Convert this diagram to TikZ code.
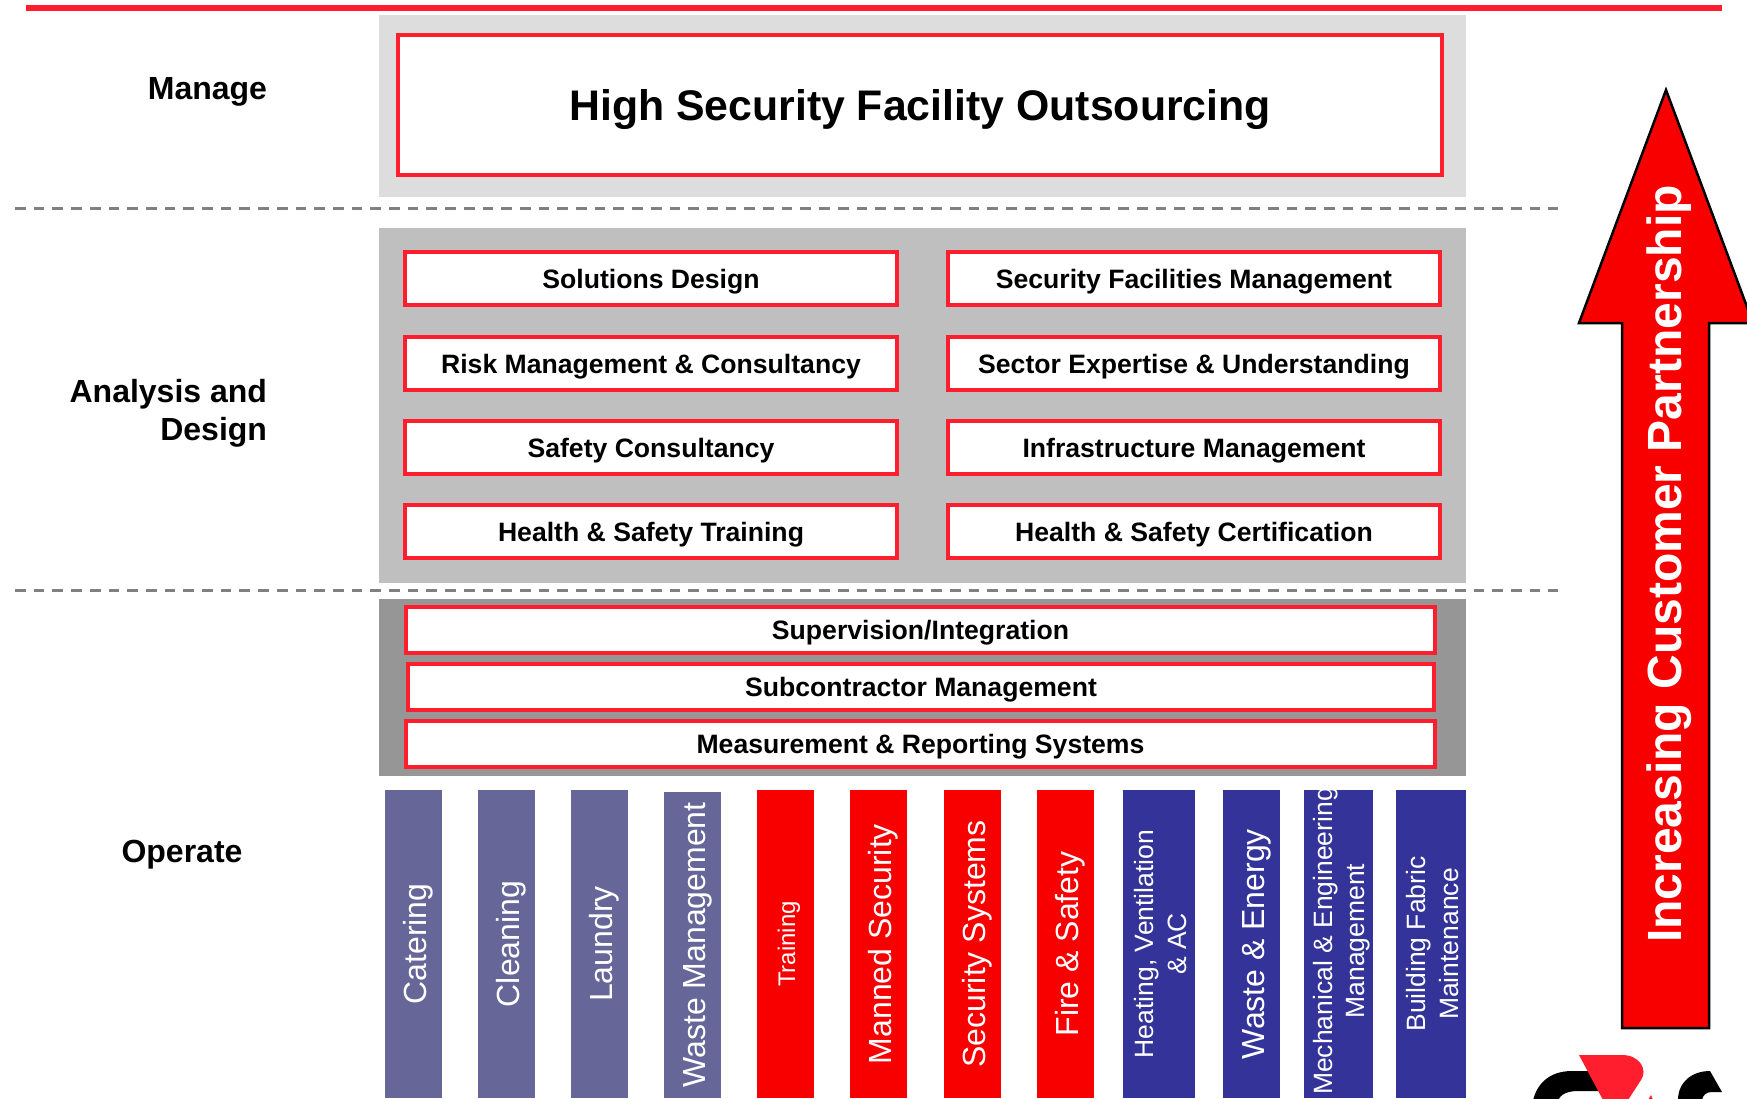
\documentclass[tikz,border=0pt]{standalone}
\usepackage{fontspec}
\setmainfont{Liberation Sans}
\definecolor{rd}{HTML}{FF1E2D}
\definecolor{pure}{HTML}{F90000}
\definecolor{pa}{HTML}{DDDDDD}
\definecolor{pb}{HTML}{BFBFBF}
\definecolor{pc}{HTML}{969696}
\definecolor{slate}{HTML}{666699}
\definecolor{navy}{HTML}{333399}
\newcommand{\bx}[7]{\node[#1,minimum width=#4pt-#3pt,minimum height=#6pt-#5pt,anchor=north west] (#2) at (#3pt,-#5pt) {#7};}
\newcommand{\col}[7]{\node[colbox,fill=#1,minimum width=#4pt-#3pt,minimum height=1098pt-#5pt,anchor=north west] (#2) at (#3pt,-#5pt) {\hspace*{#7}\makebox[0pt]{\rotatebox{90}{\begin{tabular}{@{}c@{}}#6\end{tabular}}}};}
\tikzset{
 panel/.style={draw=none,inner sep=0,outer sep=0},
 redbox/.style={draw=rd,line width=4.4pt,fill=white,inner sep=0,outer sep=0,text=black,text height=25pt,text depth=6pt,font=\fontsize{26.6}{30}\selectfont\bfseries},
 colbox/.style={draw=none,inner sep=0,outer sep=0,text=white,font=\fontsize{32}{33}\selectfont},
 lab/.style={font=\fontsize{32}{38}\selectfont\bfseries,inner sep=0,outer sep=0},
 sep/.style={draw=black!50,line width=3pt,dash pattern=on 10.7pt off 8pt},
}
\begin{document}
\begin{tikzpicture}[x=1pt,y=1pt]
\useasboundingbox (0,0) rectangle (1747,-1099);
\begin{scope}
\clip (0,0) rectangle (1747,-1099);
\coordinate (tl) at (26,-8); \coordinate (tr) at (1722,-8);
\draw[rd,line width=6pt] (tl) -- (tr);
\bx{panel,fill=pa}{pa}{379}{1466}{15}{197}{}
\bx{panel,fill=pb}{pb}{379}{1466}{228}{583}{}
\bx{panel,fill=pc}{pc}{379}{1466}{599}{776}{}
\coordinate (s1a) at (15,-208.5); \coordinate (s1b) at (1558,-208.5);
\coordinate (s2a) at (15,-590); \coordinate (s2b) at (1558,-590);
\draw[sep] (s1a) -- (s1b);
\draw[sep] (s2a) -- (s2b);
\bx{redbox,text height=40pt,text depth=8.6pt,font=\fontsize{42.8}{50}\selectfont\bfseries}{hs}{398}{1442}{35}{175}{High Security Facility Outsourcing}
\bx{redbox}{a1}{405}{897}{252}{305}{Solutions Design}
\bx{redbox}{a2}{405}{897}{337}{390}{Risk Management \& Consultancy}
\bx{redbox}{a3}{405}{897}{421}{474}{Safety Consultancy}
\bx{redbox}{a4}{405}{897}{505}{558}{Health \& Safety Training}
\bx{redbox}{b1}{948}{1440}{252}{305}{Security Facilities Management}
\bx{redbox}{b2}{948}{1440}{337}{390}{Sector Expertise \& Understanding}
\bx{redbox}{b3}{948}{1440}{421}{474}{Infrastructure Management}
\bx{redbox}{b4}{948}{1440}{505}{558}{Health \& Safety Certification}
\bx{redbox}{o1}{406}{1435}{607}{653}{Supervision/Integration}
\bx{redbox}{o2}{408}{1434}{664}{710}{Subcontractor Management}
\bx{redbox}{o3}{406}{1435}{721}{767}{Measurement \& Reporting Systems}
\node[lab,anchor=east] (m) at (267,-91.5) {Manage};
\node[lab,anchor=east,align=right] (ad) at (267,-413) {Analysis and\\Design};
\node[lab,anchor=center] (op) at (182,-855) {Operate};
\col{slate}{c1}{385}{442}{790}{Catering}{12pt}
\col{slate}{c2}{478}{535}{790}{Cleaning}{12pt}
\col{slate}{c3}{571}{628}{790}{Laundry}{12pt}
\col{slate}{c4}{664}{721}{792}{Waste Management}{12pt}
\col{pure}{c5}{757}{814}{790}{\fontsize{24}{26}\selectfont Training}{6pt}
\col{pure}{c6}{850}{907}{790}{Manned Security}{12pt}
\col{pure}{c7}{944}{1001}{790}{Security Systems}{12pt}
\col{pure}{c8}{1037}{1094}{790}{Fire \& Safety}{12pt}
\col{navy}{c9}{1123}{1195}{790}{\fontsize{26.5}{32}\selectfont Heating, Ventilation\\\fontsize{26.5}{32}\selectfont \& AC}{8pt}
\col{navy}{c10}{1223}{1280}{790}{Waste \& Energy}{12pt}
\col{navy}{c11}{1304}{1373}{790}{}{0pt}
\node[rotate=90,text=white,inner sep=0,align=center,font=\fontsize{26.5}{32}\selectfont] (c11t) at ([xshift=3pt,yshift=3pt]c11.center) {Mechanical \& Engineering\\Management};
\col{navy}{c12}{1396}{1466}{790}{\fontsize{26.5}{32}\selectfont Building Fabric\\\fontsize{26.5}{32}\selectfont Maintenance}{8pt}
\draw[fill=pure,draw=black,line width=2.5pt,line join=miter] (1666,-90) -- (1753,-323) -- (1709,-323) -- (1709,-1028) -- (1622,-1028) -- (1622,-323) -- (1579,-323) -- cycle;
\node[rotate=90,text=white,font=\fontsize{48}{50}\selectfont\bfseries,inner sep=0] (ar) at (1669,-564) {Increasing Customer Partnership};
% logo
\fill[black] (1533,-1100) .. controls (1537,-1085) and (1548,-1071) .. (1572,-1071) -- (1600,-1071) -- (1612,-1091) -- (1578,-1091) .. controls (1568,-1091) and (1561,-1094) .. (1558,-1100) -- cycle;
\fill[rd] (1579,-1055) -- (1622,-1055) .. controls (1640,-1055) and (1648,-1070) .. (1641,-1080) -- (1628,-1100) -- (1603,-1100) -- cycle;
\fill[rd] (1651,-1095) -- (1648,-1100) -- (1653,-1100) -- cycle;
\fill[black] (1678,-1100) .. controls (1678,-1082) and (1692,-1071) .. (1710,-1071) -- (1722,-1092) -- (1712,-1092) .. controls (1706,-1092) and (1703,-1095) .. (1702,-1100) -- cycle;
\end{scope}
\end{tikzpicture}
\end{document}
